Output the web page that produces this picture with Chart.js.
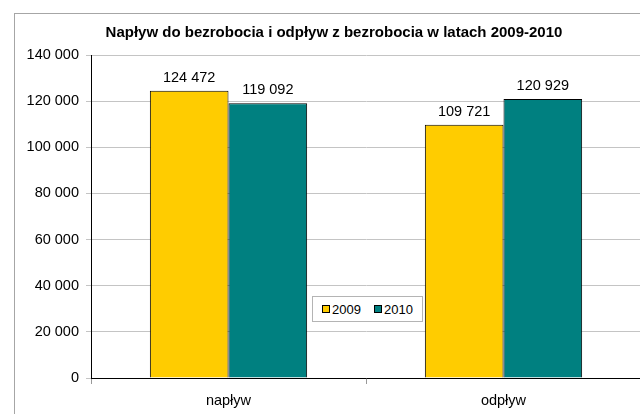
<!DOCTYPE html>
<html>
<head>
<meta charset="utf-8">
<script src="https://cdn.jsdelivr.net/npm/chart.js@4/dist/chart.umd.min.js"></script>
<style>
  html, body { margin: 0; padding: 0; background: #fff; overflow: hidden; width: 640px; height: 414px; }
  #wrap { position: absolute; left: 0; top: 0; width: 668px; height: 414px; }
  #frame { position: absolute; left: 14px; top: 13px; width: 700px; height: 500px; border: 1px solid #a6a6a6; box-sizing: border-box; pointer-events: none; }
  #legend { position: absolute; left: 312px; top: 296px; width: 111px; height: 26px; box-sizing: border-box;
            border: 1px solid #b4b4b4; background: #fff; font: 13px "Liberation Sans", Arial, sans-serif; color: #000;
            display: flex; align-items: center; justify-content: center; gap: 13px; }
  #legend .item { display: flex; align-items: center; }
  #legend .sw { width: 6px; height: 6px; border: 1px solid #000; margin-right: 2px; }
</style>
</head>
<body>
<div id="frame"></div>
<div id="wrap"><canvas id="c"></canvas></div>
<div id="legend"></div>
<script>
const chartTitle = "Napływ do bezrobocia i odpływ z bezrobocia w latach 2009-2010";
const categories = ["napływ", "odpływ"];
const seriesNames = ["2009", "2010"];
const values2009 = [124472, 109721];
const values2010 = [119092, 120929];
const seriesColors = ["#FFCC00", "#008080"];
const yMin = 0, yMax = 140000, yStep = 20000;

function fmt(v) { return String(v).replace(/\B(?=(\d{3})+(?!\d))/g, " "); }

const FONT = '"Liberation Sans", Arial, sans-serif';

const valueLabels = {
  id: 'valueLabels',
  afterDatasetsDraw(chart) {
    const ctx = chart.ctx;
    ctx.save();
    ctx.font = '14.5px ' + FONT;
    ctx.fillStyle = '#000';
    ctx.textAlign = 'center';
    ctx.textBaseline = 'alphabetic';
    chart.data.datasets.forEach((ds, i) => {
      chart.getDatasetMeta(i).data.forEach((bar, j) => {
        ctx.fillText(fmt(ds.data[j]), bar.x, bar.y - 9);
      });
    });
    ctx.restore();
  }
};

const chart = new Chart(document.getElementById('c'), {
  type: 'bar',
  data: {
    labels: categories,
    datasets: [
      { label: seriesNames[0], data: values2009, backgroundColor: seriesColors[0], borderColor: '#000', borderWidth: 1 },
      { label: seriesNames[1], data: values2010, backgroundColor: seriesColors[1], borderColor: '#000', borderWidth: 1 }
    ]
  },
  options: {
    responsive: true,
    maintainAspectRatio: false,
    animation: false,
    devicePixelRatio: 1,
    categoryPercentage: 0.572,
    barPercentage: 1,
    layout: { padding: { left: 27, right: 27, top: 0, bottom: 0 } },
    plugins: {
      legend: { display: false },
      tooltip: { enabled: false },
      title: {
        display: true,
        text: chartTitle,
        color: '#000',
        font: { family: FONT, size: 15, weight: 'bold' },
        padding: { top: 24, bottom: 13 }
      }
    },
    scales: {
      x: {
        afterFit(scale) { scale.height = 36; },
        grid: { display: true, drawOnChartArea: false, offset: true, color: '#999', tickLength: 6 },
        border: { color: '#000', width: 1 },
        ticks: { color: '#000', font: { family: FONT, size: 14.5 }, padding: 8 }
      },
      y: {
        min: yMin, max: yMax,
        afterFit(scale) { scale.width = 64; },
        grid: { color: '#c4c4c4', tickLength: 5 },
        border: { color: '#000', width: 1 },
        ticks: { stepSize: yStep, color: '#000', font: { family: FONT, size: 14.5 }, padding: 7, callback: v => fmt(v) }
      }
    }
  },
  plugins: [valueLabels]
});

const lg = document.getElementById('legend');
chart.data.datasets.forEach(ds => {
  const it = document.createElement('div'); it.className = 'item';
  const sw = document.createElement('span'); sw.className = 'sw'; sw.style.background = ds.backgroundColor;
  const tx = document.createElement('span'); tx.textContent = ds.label;
  it.appendChild(sw); it.appendChild(tx); lg.appendChild(it);
});
</script>
</body>
</html>
